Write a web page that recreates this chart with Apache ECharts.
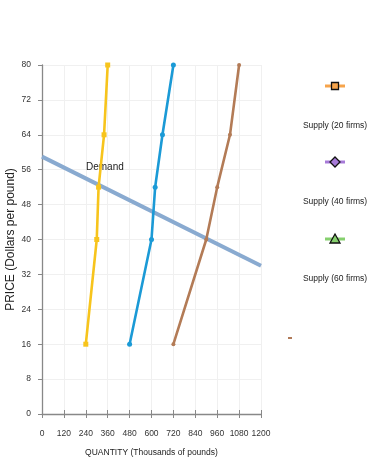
<!DOCTYPE html>
<html>
<head>
<meta charset="utf-8">
<script src="https://cdn.jsdelivr.net/npm/echarts@6/dist/echarts.min.js"></script>
<style>
  html, body { margin: 0; padding: 0; background: #fff; }
  #chart { width: 387px; height: 472px; }
</style>
</head>
<body>
<div id="chart"></div>
<script>
// data: [quantity, price]
var supply20 = [[240, 16], [300, 40], [310, 52], [340, 64], [360, 80]];
var supply40 = [[480, 16], [600, 40], [620, 52], [660, 64], [720, 80]];
var supply60 = [[720, 16], [900, 40], [960, 52], [1030, 64], [1080, 80]];
var demand = [[0, 59], [1200, 34]];
var legendNames = ['Supply (20 firms)', 'Supply (40 firms)', 'Supply (60 firms)'];

var font = '"Liberation Sans", Arial, sans-serif';

var myChart = echarts.init(document.getElementById('chart'));

// legend drawn by hand: icon above text
var legendIcons = [
    {line: '#f6a44c', fill: '#f6a44c', symbol: 'rect'},
    {line: '#a77ad8', fill: '#a77ad8', symbol: 'diamond'},
    {line: '#86d06e', fill: '#86d06e', symbol: 'triangle'}
];
var legendY = [86, 162, 239];
var graphics = [];
legendNames.forEach(function (name, i) {
    var y = legendY[i];
    graphics.push({
        type: 'line', shape: {x1: 325, y1: y, x2: 345, y2: y},
        style: {stroke: legendIcons[i].line, lineWidth: 3}
    });
    if (legendIcons[i].symbol == 'rect') {
        graphics.push({type: 'rect', shape: {x: 331.5, y: y - 3.5, width: 7, height: 7},
            style: {fill: legendIcons[i].fill, stroke: '#111', lineWidth: 1.3}});
    } else if (legendIcons[i].symbol == 'diamond') {
        graphics.push({type: 'polygon', shape: {points: [[335, y - 5], [340, y], [335, y + 5], [330, y]]},
            style: {fill: legendIcons[i].fill, stroke: '#111', lineWidth: 1.3}});
    } else {
        graphics.push({type: 'polygon', shape: {points: [[335, y - 5], [340, y + 4], [330, y + 4]]},
            style: {fill: legendIcons[i].fill, stroke: '#111', lineWidth: 1.3}});
    }
    graphics.push({
        type: 'text', x: 335, y: y + 40,
        style: {text: name, fill: '#222', font: '8.5px ' + font, align: 'center', verticalAlign: 'middle'}
    });
});
// stray little mark on the right
graphics.push({type: 'rect', shape: {x: 288, y: 337, width: 4, height: 2}, style: {fill: '#b07a58'}});
// demand label, under the supply lines
graphics.push({
    type: 'text', x: 86, y: 167, z: 1,
    style: {text: 'Demand', fill: '#222', font: '10px ' + font, verticalAlign: 'middle'}
});

var axisLabelStyle = {color: '#333', fontSize: 8.5, fontFamily: font};

var option = {
    backgroundColor: '#fff',
    animation: false,
    grid: {left: 42, right: 126, top: 65, bottom: 58, containLabel: false, outerBoundsMode: 'none'},
    xAxis: [
        {
            type: 'value', min: 0, max: 1200, interval: 120,
            name: 'QUANTITY (Thousands of pounds)',
            nameLocation: 'middle', nameGap: 34, nameMoveOverlap: false,
            nameTextStyle: {color: '#222', fontSize: 8.5, fontFamily: font},
            axisLine: {show: true, lineStyle: {color: '#888', width: 1.3}},
            axisTick: {show: true, length: 4, lineStyle: {color: '#888'}},
            axisLabel: {
                margin: 15,
                formatter: function (v) { return String(v); },
                textStyle: axisLabelStyle
            },
            splitLine: {show: true, lineStyle: {color: '#f0f0f0'}}
        },
        {
            type: 'value', min: 0, max: 1200, interval: 120, position: 'bottom',
            axisLine: {show: false},
            axisTick: {show: true, inside: true, length: 4, lineStyle: {color: '#888'}},
            axisLabel: {show: false},
            splitLine: {show: false}
        }
    ],
    yAxis: {
        type: 'value', min: 0, max: 80, interval: 8,
        name: 'PRICE (Dollars per pound)',
        nameLocation: 'middle', nameGap: 25, nameMoveOverlap: false,
        nameTextStyle: {color: '#222', fontSize: 12, fontFamily: font},
        axisLine: {show: true, lineStyle: {color: '#888', width: 1.3}},
        axisTick: {show: true, length: 4, lineStyle: {color: '#888'}},
        axisLabel: {margin: 11, textStyle: axisLabelStyle},
        splitLine: {show: true, lineStyle: {color: '#f0f0f0'}}
    },
    series: [
        {
            name: 'Demand', type: 'line', z: 1,
            data: demand, symbol: 'none',
            lineStyle: {color: '#89aad0', width: 4}
        },
        {
            name: 'S20', type: 'line', z: 3, xAxisIndex: 0,
            data: supply20, symbol: 'rect', symbolSize: 5,
            itemStyle: {color: '#f7c41c'},
            lineStyle: {color: '#f7c41c', width: 2.6}
        },
        {
            name: 'S40', type: 'line', z: 3, xAxisIndex: 0,
            data: supply40, symbol: 'circle', symbolSize: 5,
            itemStyle: {color: '#1b9ad6'},
            lineStyle: {color: '#1b9ad6', width: 2.6}
        },
        {
            name: 'S60', type: 'line', z: 3, xAxisIndex: 0,
            data: supply60, symbol: 'circle', symbolSize: 4,
            itemStyle: {color: '#b37b56'},
            lineStyle: {color: '#b37b56', width: 2.6}
        }
    ],
    graphic: graphics
};

myChart.setOption(option);
</script>
</body>
</html>
